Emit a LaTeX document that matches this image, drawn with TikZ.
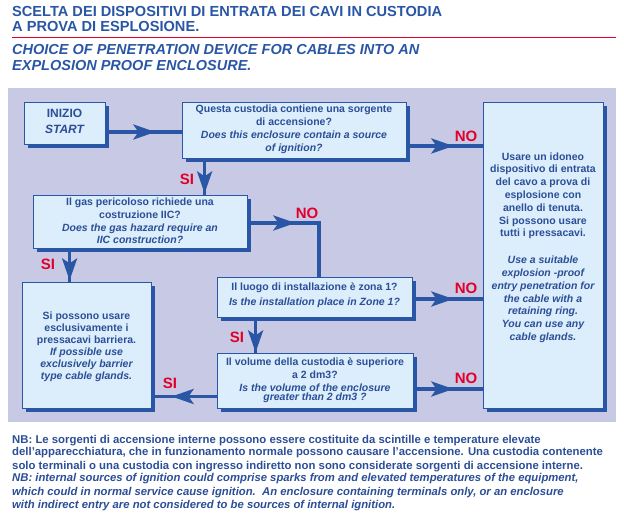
\documentclass[tikz,border=0pt]{standalone}
\usepackage{fontspec}
\setmainfont{Liberation Sans}
\usetikzlibrary{arrows.meta,shadows,decorations.markings,calc}
\definecolor{dkblue}{HTML}{2A56A6}
\definecolor{txtblue}{HTML}{2B4E98}
\definecolor{boxfill}{HTML}{DCEEFB}
\definecolor{panel}{HTML}{C8C9E4}
\definecolor{redlbl}{HTML}{E2002B}
\begin{document}
\begin{tikzpicture}[x=1pt,y=-1pt,
  box/.style={draw=dkblue, line width=0.8pt, fill=boxfill, inner sep=0pt,
    drop shadow={shadow xshift=4pt, shadow yshift=-4pt, opacity=1, fill=dkblue}},
  boxtext/.style={text=txtblue, font=\bfseries\fontsize{10.5}{13}\selectfont, align=center, inner sep=0pt},
  conn/.style={draw=dkblue, line width=3.5pt},
  tipat/.style={postaction={decorate, decoration={markings, mark=at position #1 with {\arrow{Stealth[length=22pt,width=15pt,inset=5pt]}}}}},
  lbl/.style={text=redlbl, font=\bfseries\fontsize{15}{15}\selectfont, inner sep=0pt},
  ttl/.style={text=dkblue, font=\bfseries\fontsize{14.6}{14}\selectfont, inner sep=0pt, anchor=base west},
  ttlen/.style={text=dkblue, font=\bfseries\itshape\fontsize{14.5}{14}\selectfont, inner sep=0pt, anchor=base west},
  note/.style={text=txtblue, font=\bfseries\fontsize{11.35}{13}\selectfont, inner sep=0pt, anchor=base west},
  noteen/.style={text=txtblue, font=\bfseries\itshape\fontsize{11.3}{13}\selectfont, inner sep=0pt, anchor=base west}
]
\useasboundingbox (0,0) rectangle (624,518);
\fill[white] (0,0) rectangle (624,518);
% titles
\node[ttl] (t1) at (12,17) {SCELTA DEI DISPOSITIVI DI ENTRATA DEI CAVI IN CUSTODIA};
\node[ttl] (t2) at (12,32) {A PROVA DI ESPLOSIONE.};
\draw[redlbl, line width=1pt] (12,38) -- (616,38);
\node[ttlen] (t3) at (12,55) {CHOICE OF PENETRATION DEVICE FOR CABLES INTO AN};
\node[ttlen] (t4) at (12,71) {EXPLOSION PROOF ENCLOSURE.};
% panel
\fill[panel] (8,88) rectangle (616,422);
% boxes
\node[box, minimum width=81pt, minimum height=42pt] (start) at (64.5,123) {};
\node[box, minimum width=224pt, minimum height=56pt] (q1) at (294,130) {};
\node[box, minimum width=214pt, minimum height=53pt] (q2) at (140,221.5) {};
\node[box, minimum width=195pt, minimum height=40pt] (q3) at (314.5,297) {};
\node[box, minimum width=196pt, minimum height=55pt] (q4) at (315,380.5) {};
\node[box, minimum width=129pt, minimum height=126pt] (left) at (86.5,345) {};
\node[box, minimum width=120pt, minimum height=306pt] (right) at (543,255) {};
% connectors
\draw[conn, tipat=50pt] ([yshift=-9pt]start.east) -- ([yshift=-9pt]start.east -| q1.west);
\draw[conn, tipat=35pt] ([xshift=23pt]q1.south west) -- ([xshift=23pt]q1.south west |- q2.north);
\draw[conn, tipat=48pt] ([yshift=-1.5pt]q2.east) -| ([xshift=4.5pt]q3.north);
\draw[conn, tipat=32pt] ([xshift=37pt]q2.south west) -- ([xshift=37pt]q2.south west |- left.north);
\draw[conn, tipat=47pt] ([yshift=-16pt]q1.east) -- ([yshift=-16pt]q1.east -| right.west);
\draw[conn, tipat=41pt] ([yshift=-2pt]q3.east) -- ([yshift=-2pt]q3.east -| right.west);
\draw[conn, tipat=35pt] ([xshift=39pt]q3.south west) -- ([xshift=39pt]q3.south west |- q4.north);
\draw[conn, tipat=40pt] ([yshift=-8.5pt]q4.east) -- ([yshift=-8.5pt]q4.east -| right.west);
\draw[conn, tipat=45pt] ([yshift=-16pt]q4.west) -- ([yshift=-16pt]q4.west -| left.east);
% box texts
\node[boxtext, font=\bfseries\fontsize{12}{16}\selectfont] (start-t) at (64.5,121) {INIZIO\\ \itshape START};
\node[boxtext] (q1-t) at (294,129.5) {Questa custodia contiene una sorgente\\ di accensione?\\ \itshape Does this enclosure contain a source\\ \itshape of ignition?};
\node[boxtext, font=\bfseries\fontsize{10.5}{12.7}\selectfont] (q2-t) at (140,221) {Il gas pericoloso richiede una\\ costruzione IIC?\\ \itshape Does the gas hazard require an\\ \itshape IIC construction?};
\node[boxtext, font=\bfseries\fontsize{10.5}{15}\selectfont] (q3-t) at (314.5,295.5) {Il luogo di installazione è zona 1?\\ \itshape Is the installation place in Zone 1?};
\node[boxtext] (q4-t) at (315,380.5) {Il volume della custodia è superiore\\ a 2 dm3?\\ \itshape Is the volume of the enclosure\\[-4pt] \itshape greater than 2 dm3 ?};
\node[boxtext, font=\bfseries\fontsize{10.5}{12}\selectfont] (left-t) at (86.5,347) {Si possono usare\\ esclusivamente i\\ pressacavi barriera.\\ \itshape If possible use\\ \itshape exclusively barrier\\ \itshape type cable glands.};
\node[boxtext, font=\bfseries\fontsize{10.5}{12.8}\selectfont] (right-t) at (543,247.5) {Usare un idoneo\\ dispositivo di entrata\\ del cavo a prova di\\ esplosione con\\ anello di tenuta.\\ Si possono usare\\ tutti i pressacavi.\\[14pt] \itshape Use a suitable\\ \itshape explosion -proof\\ \itshape entry penetration for\\ \itshape the cable with a\\ \itshape retaining ring.\\ \itshape You can use any\\ \itshape cable glands.};
% labels
\node[lbl] (si1) at (187,179) {SI};
\node[lbl] (no1) at (307,213) {NO};
\node[lbl] (no2) at (466,136) {NO};
\node[lbl] (si2) at (48,264) {SI};
\node[lbl] (si3) at (237,337) {SI};
\node[lbl] (no3) at (466,288) {NO};
\node[lbl] (no4) at (466,378) {NO};
\node[lbl] (si4) at (170,383) {SI};
% notes
\node[note] (n1) at (12,443) {NB: Le sorgenti di accensione interne possono essere costituite da scintille e temperature elevate};
\node[note] (n2) at (12,456) {dell’apparecchiatura, che in funzionamento normale possono causare l’accensione. Una custodia contenente};
\node[note] (n3) at (12,469) {solo terminali o una custodia con ingresso indiretto non sono considerate sorgenti di accensione interne.};
\node[noteen] (n4) at (12,482) {NB: internal sources of ignition could comprise sparks from and elevated temperatures of the equipment,};
\node[noteen] (n5) at (12,495) {which could in normal service cause ignition.\ \ An enclosure containing terminals only, or an enclosure};
\node[noteen] (n6) at (12,508) {with indirect entry are not considered to be sources of internal ignition.};
\end{tikzpicture}
\end{document}
